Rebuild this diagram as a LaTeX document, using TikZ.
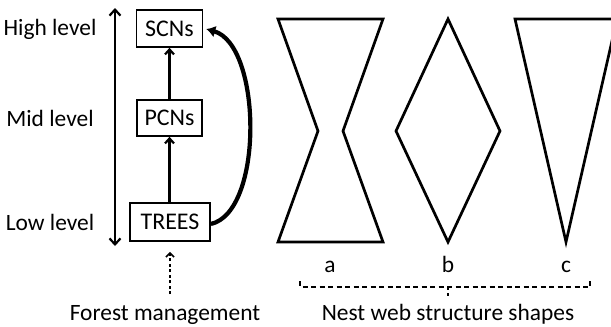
\documentclass[tikz,border=0pt]{standalone}
\usepackage{fontspec}
\setmainfont{Carlito}
\usetikzlibrary{arrows.meta}
\begin{document}
\begin{tikzpicture}[x=1bp,y=-1bp,
  lvl/.style={font=\fontsize{23.5}{26}\selectfont, inner sep=0pt, anchor=base},
  netbox/.style={draw, line width=1.6bp, inner sep=0pt, text height=15bp, text depth=0bp, font=\fontsize{24}{26}\selectfont},
  up/.style={line width=2.2bp, -{Straight Barb[length=5bp,width=9bp,line width=2.2bp]}},
  webshape/.style={draw, line width=2.7bp, line join=miter},
  lbl/.style={font=\fontsize{23.5}{26}\selectfont, inner sep=0pt, anchor=base}
]
\useasboundingbox (0,0) rectangle (611,326);
\fill[white] (0,0) rectangle (611,326);

% level labels
\node[lvl] (hl) at (50,35) {High level};
\node[lvl] (ml) at (50,126) {Mid level};
\node[lvl] (ll) at (50,230) {Low level};

% vertical double arrow
\coordinate (vt) at (115,8);
\coordinate (vb) at (115,246);
\draw[line width=2.2bp, {Straight Barb[length=6bp,width=11bp,line width=2.2bp]}-{Straight Barb[length=6bp,width=11bp,line width=2.2bp]}] (vt) -- (vb);

% boxes
\node[netbox, minimum width=66bp, minimum height=37bp] (scns) at (169.5,28.5) {SCNs};
\node[netbox, minimum width=65bp, minimum height=36bp] (pcns) at (169.5,118) {PCNs};
\node[netbox, minimum width=80bp, minimum height=38bp] (trees) at (170,222) {TREES};

\draw[up] (pcns.north) -- (scns.south);
\draw[up] (trees.north -| pcns.south) -- (pcns.south);

% curved thick arrow
\draw[line width=4.2bp, -{Latex[length=9bp,width=12bp]}] ([yshift=-2bp]trees.east) .. controls (264,212) and (262,45) .. ([xshift=3bp,yshift=-0.5bp]scns.east);

% forest management
\node[lbl] (fm) at (165,320) {Forest management};
\coordinate (fmtop) at (170,294);
\draw[line width=1.7bp, dash pattern=on 3bp off 2.5bp, -{Straight Barb[length=4bp,width=8bp,line width=1.7bp]}, shorten >=10bp] (fmtop) -- (trees.south -| fmtop);

% shapes
\draw[webshape] (278,19) -- (383,19) -- (343,131) -- (383,242) -- (278,242) -- (318,131) -- cycle;
\draw[webshape] (448,19) -- (500,131) -- (448,242) -- (396,131) -- cycle;
\draw[webshape] (515,19) -- (617,19) -- (566,242) -- cycle;

\node[lbl] (la) at (330,272) {a};
\node[lbl] (lb) at (448,272) {b};
\node[lbl] (lc) at (566,272) {c};

% dashed brace
\coordinate (bl) at (300,281);
\coordinate (br) at (590,281);
\coordinate (bm) at (448,287);
\draw[line width=1.6bp, dash pattern=on 5bp off 3.5bp] (bl) -- (300,287) -- (590,287) -- (br);
\draw[line width=1.6bp, dash pattern=on 3bp off 3bp] (bm) -- (448,297);
\node[lbl] (nws) at (448,320) {Nest web structure shapes};
\end{tikzpicture}
\end{document}
